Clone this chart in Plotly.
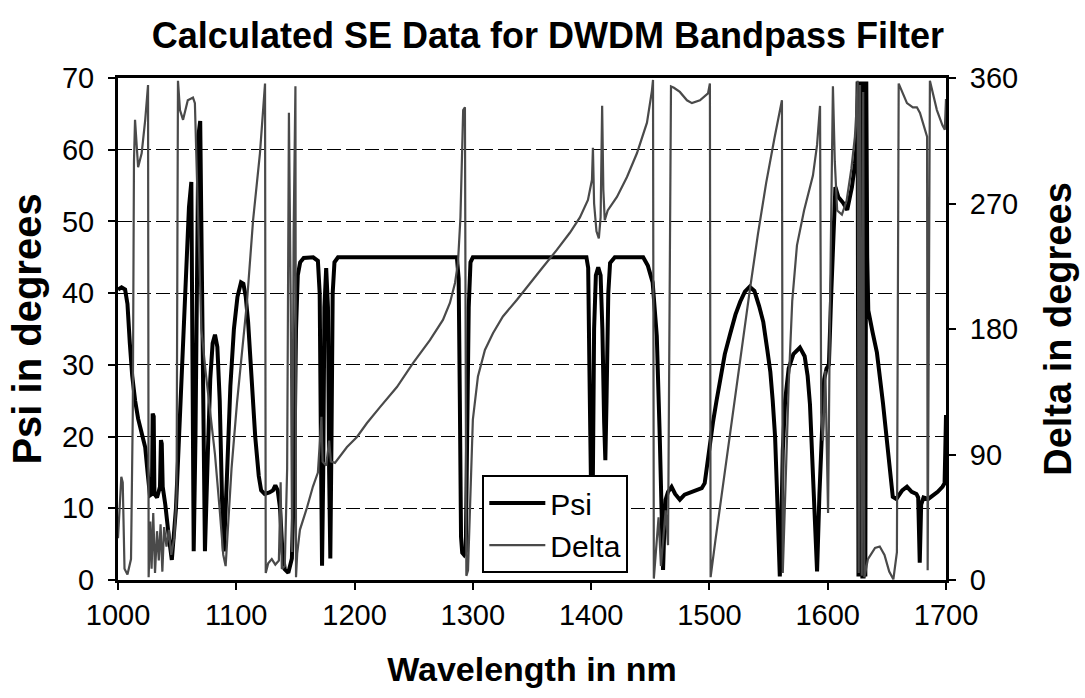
import plotly.graph_objects as go

# ---- Psi (degrees) vs wavelength (nm) ----
psi_wl = [1000, 1003, 1006, 1008, 1010, 1012, 1014.5, 1017, 1020, 1023, 1025, 1027, 1028.7, 1029.3, 1030.2,
          1030.8, 1033, 1035.5, 1036.3, 1037, 1037.8, 1040, 1043, 1045.5, 1049, 1053, 1057, 1060, 1062, 1063,
          1064, 1065.5, 1067, 1068, 1069.5, 1071, 1072.5, 1073.5, 1076, 1078, 1080, 1082, 1084, 1086, 1088,
          1089.5, 1092, 1095, 1098, 1101, 1104, 1106, 1108, 1110, 1113, 1116, 1119, 1121, 1124, 1128, 1131,
          1133, 1135, 1137, 1139, 1141, 1144, 1147, 1149, 1150.5, 1152, 1154, 1157, 1165, 1169, 1170.5,
          1171.5, 1172.5, 1173.5, 1174.5, 1176, 1177.5, 1178.5, 1179.5, 1180.5, 1181.5, 1183, 1186, 1286.5,
          1288, 1289, 1290, 1291, 1292.5, 1294, 1295, 1296.5, 1298, 1300, 1396, 1397.5, 1398.5, 1399.5,
          1400.5, 1401.5, 1402.5, 1404, 1406, 1408, 1409.5, 1411, 1412, 1413, 1414.5, 1416, 1420, 1444, 1448,
          1452, 1455.5, 1458, 1460, 1460.8, 1462, 1463, 1465, 1468, 1471, 1475, 1479, 1486, 1493.5, 1496,
          1498, 1500, 1503, 1506, 1509, 1513, 1517.5, 1522, 1526, 1530, 1534, 1538, 1542, 1545.5, 1549,
          1551.5, 1553.5, 1555.5, 1557, 1558, 1559.5, 1560.5, 1562, 1564, 1567, 1571, 1576.5, 1580.5, 1583,
          1585, 1587.5, 1589.5, 1591, 1593, 1595, 1597, 1599, 1601, 1603, 1605, 1606.5, 1609, 1613, 1616.5,
          1620.5, 1623, 1624.7, 1625.3, 1626, 1626.8, 1627.6, 1628.4, 1629.3, 1630.3, 1631, 1631.8, 1632.6,
          1633.4, 1634.3, 1638, 1641.6, 1646.7, 1650, 1652.6, 1655, 1658, 1663, 1667, 1671, 1675, 1676.5,
          1677.8, 1679, 1681, 1685, 1689, 1693, 1697, 1698.8, 1699.4, 1700]
psi_deg = [40.5, 40.8, 40.5, 38.5, 33, 28.5, 25, 22.5, 20.5, 18.5, 15, 11.8, 12, 23.2, 22.8,
           12, 11.5, 13, 19.5, 19, 13, 10.5, 6, 2.8, 10, 25, 42, 52, 55.5, 30,
           4, 20, 50, 62, 64, 40, 10, 4, 18, 28, 33, 34.2, 32.5, 25, 11,
           4, 14, 27, 35, 39.5, 41.5, 41.3, 39.5, 36, 28, 20, 14.5, 12.5, 12, 12.2, 12.5,
           13.2, 12.5, 10, 4, 1.5, 1, 3, 15, 35, 42.5, 44.3, 44.9, 45, 44.5, 40,
           20, 2, 15, 38, 43.5, 38, 15, 3, 20, 40, 44.3, 45, 45,
           42, 25, 6, 3.8, 3.5, 4, 15, 38, 44.3, 45, 45, 43.5, 30, 12,
           5.6, 15, 35, 42.5, 43.6, 42.5, 35, 22, 16.7, 25, 40, 44.2, 45, 45, 43.8,
           41.5, 34, 20, 8, 1.4, 8, 11.2, 12.3, 13, 12, 11.2, 11.9, 12.3, 12.8, 13.5,
           16, 19, 22, 25, 27.5, 31.5, 34.3, 37, 38.8, 40.2, 40.9, 40.3, 38.2, 36, 32,
           29, 25, 20, 13, 6, 0.5, 5, 18, 25, 29.5, 31.5, 32.4, 31.2, 28.5,
           24.5, 15.3, 6, 1.2, 12, 22, 28, 29.5, 30, 40, 51, 54.8, 53.4, 52.6, 51.6,
           54.8, 58, 61, 69.5, 0.5, 69.5, 0.5, 69.5, 0.5, 0.5, 69.5, 0.5, 69.5,
           45, 37.6, 34.5, 31.7, 24.7, 19, 15.3, 11.6, 11.3, 12.5, 13, 12.3, 12, 11.5,
           2.4, 10.5, 11.5, 11.3, 11.8, 12.3, 13, 13.5, 18, 23]

# ---- Delta (degrees) vs wavelength (nm) ----
delta_wl = [1000, 1001.5, 1002.8, 1004, 1005.5, 1008, 1011, 1012.5, 1013.5, 1014.4, 1015.5, 1017, 1020, 1023,
            1025.4, 1025.9, 1027.3, 1028.4, 1029.8, 1031.3, 1033, 1034.5, 1036, 1037.5, 1039, 1041, 1043,
            1045, 1047.5, 1049.5, 1050.7, 1052.4, 1055, 1057, 1059, 1063.4, 1065, 1066.8, 1068.5, 1070.5,
            1074, 1078, 1082, 1086, 1089, 1091, 1093, 1096, 1100.6, 1105, 1109, 1114.2, 1120, 1124.3,
            1124.9, 1127, 1130, 1133, 1136, 1137.5, 1138.5, 1141, 1143, 1144.5, 1146, 1147.2, 1148.5, 1150,
            1150.5, 1151.5, 1153.8, 1159.8, 1164.8, 1169, 1171, 1172, 1173, 1176, 1178.5, 1180, 1183.4,
            1193.6, 1202, 1210.5, 1221.5, 1235.8, 1249.4, 1263.7, 1274.7, 1280.6, 1284.9, 1287.4, 1289.5,
            1290.8, 1291.8, 1293.3, 1294.5, 1295.9, 1297.6, 1300, 1304.3, 1310.2, 1317, 1325.4, 1337.3,
            1348.3, 1359.3, 1371, 1382, 1390.5, 1397.3, 1400.7, 1401.5, 1402.5, 1404.5, 1406.5, 1408,
            1409.3, 1410.3, 1411.5, 1414, 1421.8, 1430.3, 1438.7, 1447.2, 1451.4, 1452.3, 1453, 1455, 1457,
            1459, 1461, 1463, 1465, 1467.5, 1470, 1475, 1481, 1485.2, 1492, 1498.8, 1500.4, 1501, 1505,
            1512, 1520, 1527, 1534, 1541, 1548, 1555, 1561.3, 1562, 1564, 1567, 1570, 1574, 1580, 1587.5,
            1591, 1593.5, 1594.5, 1596, 1598, 1600.3, 1602, 1604.4, 1606, 1608, 1612, 1616, 1620, 1623,
            1624.5, 1625.3, 1626.2, 1627.3, 1628.8, 1630, 1631, 1634, 1640, 1644, 1648, 1652, 1655.5,
            1658.5, 1660, 1667, 1672, 1675.4, 1678, 1680.5, 1684, 1684.5, 1686.4, 1692.3, 1697, 1699, 1700]
delta_deg = [30, 60, 74, 70, 8, 4, 15, 120, 300, 330, 312, 296, 306, 330,
             355, 2, 42, 8, 48, 5, 35, 14, 40, 6, 38, 24, 36,
             18, 30, 60, 358, 337, 330, 338, 344, 346, 342, 287, 240, 180,
             150, 120, 90, 50, 18, 10, 40, 80, 127, 165, 199, 258, 306, 356,
             5, 12, 15, 11, 14, 70, 8, 10, 80, 335, 200, 20, 250, 354,
             2, 19, 36, 52, 67, 77, 100, 117, 85, 82, 100, 85, 84,
             95.4, 102.6, 112.6, 124, 138.4, 155.6, 172, 186.5, 198.7, 213, 227.3, 260,
             300, 337, 339, 3, 7, 55, 115, 146, 165, 177, 189, 201,
             213, 224.5, 236.7, 249, 260, 272.5, 287, 310, 270, 250, 245, 260,
             340, 280, 258, 265, 274.7, 289, 306, 328, 351, 358.6, 1, 20, 45,
             10, 30, 50, 25, 354, 353, 350, 344, 342, 344, 349, 356, 2, 28,
             72, 120, 163, 207, 248, 285, 317, 344, 5, 60, 140, 200, 240, 265, 290,
             312, 340, 120, 100, 150, 48, 200, 354, 300, 265, 262, 272, 295, 318,
             340, 358, 5, 355, 3, 350, 2, 15, 23, 24, 18, 6, 0.5,
             20, 356, 342, 339, 339, 335, 328, 318, 7, 358, 337, 326, 323, 345]

x_ticks = [1000, 1100, 1200, 1300, 1400, 1500, 1600, 1700]
psi_ticks = [0, 10, 20, 30, 40, 50, 60, 70]
delta_ticks = [0, 90, 180, 270, 360]

FONT = "Liberation Sans, Arial, sans-serif"

fig = go.Figure()
fig.add_trace(go.Scatter(x=delta_wl, y=delta_deg, name="Delta", yaxis="y2", mode="lines",
                         line=dict(color="#4a4a4a", width=2.2), legendrank=2))
fig.add_trace(go.Scatter(x=psi_wl, y=psi_deg, name="Psi", yaxis="y", mode="lines",
                         line=dict(color="#000000", width=4), legendrank=1))

fig.update_layout(
    width=1085, height=698, autosize=False,
    margin=dict(l=118, r=137, t=78, b=118),
    paper_bgcolor="white", plot_bgcolor="white",
    font=dict(family=FONT, color="black"),
    title=dict(text="<b>Calculated SE Data for DWDM Bandpass Filter</b>",
               x=0.505, xref="container", xanchor="center",
               y=1 - 35 / 698, yref="container", yanchor="middle",
               font=dict(size=36, family=FONT, color="black")),
    xaxis=dict(range=[1000, 1700], tickvals=x_ticks, ticks="outside", ticklen=7, tickwidth=1.5,
               tickcolor="black", showline=True, linewidth=3, linecolor="black", mirror=True,
               showgrid=False, zeroline=False, tickfont=dict(size=29, family=FONT),
               title=dict(text="<b>Wavelength in nm</b>", font=dict(size=34, family=FONT), standoff=28)),
    yaxis=dict(range=[0, 70], tickvals=psi_ticks, ticks="outside", ticklen=7, tickwidth=1.5,
               tickcolor="black", showline=True, linewidth=3, linecolor="black", mirror=True,
               showgrid=True, gridcolor="black", gridwidth=1, griddash="14px,5px", zeroline=False,
               tickfont=dict(size=29, family=FONT), ticklabelstandoff=8,
               title=dict(text="<b>Psi in degrees</b>", font=dict(size=40, family=FONT), standoff=8)),
    yaxis2=dict(range=[0, 360], tickvals=delta_ticks, overlaying="y", side="right", ticks="outside",
                ticklen=7, tickwidth=1.5, tickcolor="black", showline=True, linewidth=3,
                linecolor="black", showgrid=False, zeroline=False,
                tickfont=dict(size=29, family=FONT), ticklabelstandoff=8,
                title=dict(text="<b>Delta in degrees</b>", font=dict(size=38, family=FONT), standoff=28)),
    legend=dict(x=0.44, y=0.209, xanchor="left", yanchor="top", bgcolor="white",
                bordercolor="black", borderwidth=2, font=dict(size=30, family=FONT),
                itemwidth=56, tracegroupgap=0),
    showlegend=True,
)

fig.write_html("out.html", config={"displayModeBar": False},
               post_script="document.body.style.margin='0';document.body.style.padding='0';")
